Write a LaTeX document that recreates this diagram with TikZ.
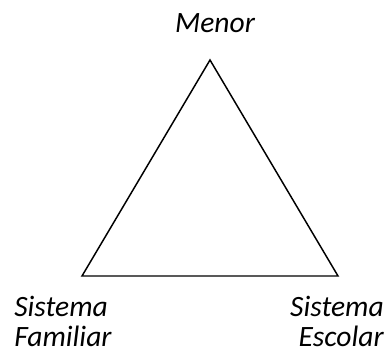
\documentclass[tikz,border=0pt]{standalone}
\usepackage{fontspec}
\setmainfont{Carlito}
\usepackage{tikz}

\begin{document}
\begin{tikzpicture}[x=0.25mm,y=-0.25mm,
  lbl/.style={inner sep=0pt, font=\fontsize{21}{21.5}\selectfont\itshape}]

\useasboundingbox (0,0) rectangle (388,351);

\coordinate (top) at (210,60);
\coordinate (left) at (82,276);
\coordinate (right) at (338,276);
\draw[black, line width=1.05pt, line join=miter] (top) -- (left) -- (right) -- cycle;

\node[lbl, anchor=base] (menor) at (215,33) {Menor};
\node[lbl, anchor=north west, align=left] (familiar) at (14,296) {Sistema\\Familiar};
\node[lbl, anchor=north east, align=right] (escolar) at (384,296) {Sistema\\Escolar\hspace{3pt}};
\end{tikzpicture}
\end{document}
